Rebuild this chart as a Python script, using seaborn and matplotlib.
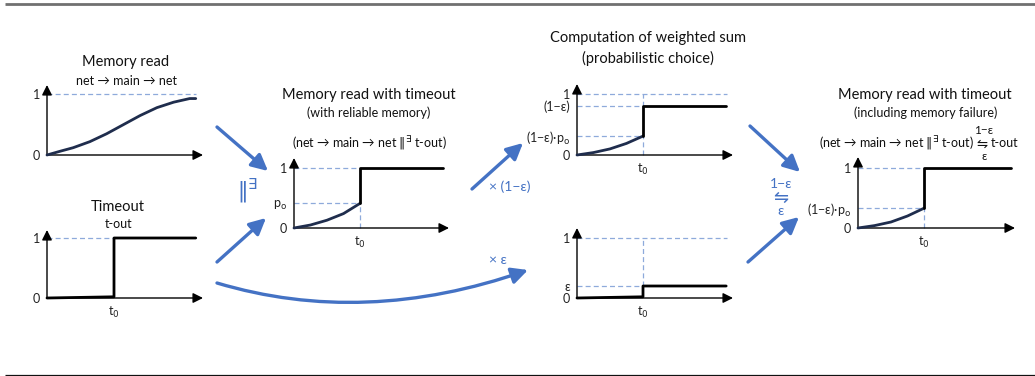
import matplotlib
matplotlib.use('Agg')
import matplotlib.pyplot as plt
import seaborn as sns
from matplotlib.patches import FancyArrowPatch
from matplotlib.path import Path

sns.set_theme(style='white')
plt.rcParams['font.family'] = ['Lato', 'DejaVu Sans']
plt.rcParams['mathtext.fontset'] = 'dejavusans'

# ---------------- data (time in units of t0, probability) ----------------
read_t = [0, 0.19, 0.39, 0.64, 0.89, 1.14, 1.39, 1.64, 1.89, 2.13, 2.22]
read_p = [0, 0.06, 0.12, 0.22, 0.35, 0.50, 0.65, 0.78, 0.87, 0.93, 0.93]

timeout_t = [0, 1, 1, 2.22]
timeout_p = [0, 0.02, 1, 1]

early_t = [0, 0.25, 0.5, 0.75, 1.0]
reliable_early = [0, 0.05, 0.13, 0.24, 0.41]
reliable_step_t = [1, 1, 2.26]
reliable_step_p = [0.41, 1, 1]

weighted_early = [0, 0.04, 0.10, 0.19, 0.31]
weighted_step_t = [1, 1, 2.26]
weighted_step_p = [0.31, 0.80, 0.80]

eps_t = [0, 1, 1, 2.26]
eps_p = [0, 0.02, 0.20, 0.20]

failure_early = [0, 0.04, 0.10, 0.20, 0.33]
failure_step_t = [1, 1, 2.32]
failure_step_p = [0.33, 1, 1]

PO = r'p$_{\mathrm{o}}$'
p1_ticks, p1_labels = [0, 1], ['0', '1']
p2_ticks, p2_labels = [0, 1], ['0', '1']
p3_ticks, p3_labels = [0, 0.41, 1], ['0', PO, '1']
p4_ticks, p4_labels = [0, 0.31, 0.80, 1], ['0', '(1−ε)·' + PO, '(1−ε)', '1']
p5_ticks, p5_labels = [0, 0.20, 1], ['0', 'ε', '1']
p6_ticks, p6_labels = [0, 0.33, 1], ['0', '(1−ε)·' + PO, '1']
t0_label = r't$_0$'

# ---------------- figure ----------------
W, H = 1035, 376
fig = plt.figure(figsize=(W / 100, H / 100), dpi=100)

blue = '#4472C4'
dash_c = '#8EAADB'
navy = '#1F2D4D'

ov = fig.add_axes([0, 0, 1, 1])
ov.set_xlim(0, W)
ov.set_ylim(H, 0)
ov.axis('off')
ov.patch.set_alpha(0)

# top / bottom rules
ov.plot([5, W], [4, 4], color='#707070', lw=2.0, solid_capstyle='butt')
ov.plot([5, W], [374.5, 374.5], color='#111111', lw=0.9, solid_capstyle='butt')


def make_panel(axis_x, y0, tip, top, ux, uy):
    ax = fig.add_axes([axis_x / W, 1 - y0 / H, (tip - axis_x) / W, (y0 - top) / H])
    ax.set_xlim(0, (tip - axis_x) / ux)
    ax.set_ylim(0, (y0 - top) / uy)
    ax.patch.set_alpha(0)
    for s in ax.spines.values():
        s.set_visible(False)
    ax.tick_params(length=0, labelsize=9, pad=5, colors='#222222')
    ax.annotate('', xy=(1, 0), xytext=(0, 0), xycoords='axes fraction',
                arrowprops=dict(arrowstyle='-|>,head_length=0.5,head_width=0.25',
                                color='black', lw=1.0, mutation_scale=12,
                                shrinkA=0, shrinkB=0))
    ax.annotate('', xy=(0, 1), xytext=(0, 0), xycoords='axes fraction',
                arrowprops=dict(arrowstyle='-|>,head_length=0.5,head_width=0.25',
                                color='black', lw=1.0, mutation_scale=12,
                                shrinkA=0, shrinkB=0))
    return ax


def dashed(ax, xs, ys):
    ax.plot(xs, ys, color=dash_c, lw=0.9, dashes=(4, 2.5), clip_on=False, zorder=1)


def line(ax, xs, ys, color, lw=2.0):
    sns.lineplot(x=xs, y=ys, ax=ax, estimator=None, sort=False, color=color,
                 lw=lw, clip_on=False, zorder=3)
    ax.set_xlabel('')
    ax.set_ylabel('')


def ticks(ax, yt, yl, t0=True):
    ax.set_yticks(yt)
    ax.set_yticklabels(yl)
    if t0:
        ax.set_xticks([1])
        ax.set_xticklabels([t0_label])
    else:
        ax.set_xticks([])


# Panel 1: memory read
a1 = make_panel(47, 155, 203, 85, 67, 60.7)
dashed(a1, [0, 2.22], [1, 1])
line(a1, read_t, read_p, navy, 2.0)
ticks(a1, p1_ticks, p1_labels, t0=False)

# Panel 2: timeout
a2 = make_panel(47, 298, 203, 230, 67, 60)
dashed(a2, [0, 1], [1, 1])
line(a2, timeout_t, timeout_p, 'black', 2.0)
ticks(a2, p2_ticks, p2_labels)

# Panel 3: memory read with timeout (reliable)
a3 = make_panel(294, 228, 449, 158, 66, 60)
dashed(a3, [0, 1], [1, 1])
dashed(a3, [0, 1], [0.41, 0.41])
dashed(a3, [1, 1], [0, 0.41])
line(a3, early_t, reliable_early, navy, 2.0)
line(a3, reliable_step_t, reliable_step_p, 'black', 2.0)
ticks(a3, p3_ticks, p3_labels)

# Panel 4: weighted (1-eps)
a4 = make_panel(577, 155, 733, 84, 66, 61)
dashed(a4, [0, 2.27], [1, 1])
dashed(a4, [0, 1], [0.80, 0.80])
dashed(a4, [0, 1], [0.31, 0.31])
dashed(a4, [1, 1], [0, 1])
line(a4, early_t, weighted_early, navy, 2.0)
line(a4, weighted_step_t, weighted_step_p, 'black', 2.0)
ticks(a4, p4_ticks, p4_labels)

# Panel 5: weighted eps
a5 = make_panel(577, 298, 733, 228, 66, 60)
dashed(a5, [0, 2.27], [1, 1])
dashed(a5, [0, 1], [0.20, 0.20])
dashed(a5, [1, 1], [0.20, 1])
line(a5, eps_t, eps_p, 'black', 2.0)
ticks(a5, p5_ticks, p5_labels)

# Panel 6: memory read with timeout incl. failure
a6 = make_panel(858, 228, 1015, 157, 66, 60)
dashed(a6, [0, 1], [1, 1])
dashed(a6, [0, 1], [0.33, 0.33])
dashed(a6, [1, 1], [0, 0.33])
line(a6, early_t, failure_early, navy, 2.0)
line(a6, failure_step_t, failure_step_p, 'black', 2.0)
ticks(a6, p6_ticks, p6_labels)

# ---------------- texts ----------------
tk = dict(ha='center', va='center', color='#111111')
ov.text(126, 62, 'Memory read', fontsize=10.5, **tk)
ov.text(126, 81, 'net → main → net', fontsize=9, **tk)
ov.text(118, 207, 'Timeout', fontsize=10.5, **tk)
ov.text(119, 224, 't-out', fontsize=9, **tk)
ov.text(369, 95, 'Memory read with timeout', fontsize=10.5, **tk)
ov.text(369, 113, '(with reliable memory)', fontsize=9, **tk)
ov.text(369, 143, r'(net → main → net $\Vert^{\exists}$ t-out)', fontsize=9, **tk)
ov.text(648, 38, 'Computation of weighted sum', fontsize=10.5, **tk)
ov.text(648, 58, '(probabilistic choice)', fontsize=10.5, **tk)
ov.text(925, 95, 'Memory read with timeout', fontsize=10.5, **tk)
ov.text(926, 113, '(including memory failure)', fontsize=9, **tk)
ov.text(974, 143, r'(net → main → net $\Vert^{\exists}$ t-out)', fontsize=9,
        ha='right', va='center', color='#111111')
ov.text(982, 144, '⇋', fontsize=9.5, **tk)
ov.text(991, 143, 't-out', fontsize=9, ha='left', va='center', color='#111111')
ov.text(984, 130, '1−ε', fontsize=8.5, **tk)
ov.text(984, 156, 'ε', fontsize=8.5, **tk)

# ---------------- blue arrows ----------------
def barrow(p0, p1):
    ov.add_patch(FancyArrowPatch(p0, p1, arrowstyle='-|>,head_length=0.7,head_width=0.35',
                                 mutation_scale=14, color=blue, lw=2.4,
                                 shrinkA=0, shrinkB=0))

barrow((217, 127), (268, 171))
barrow((217, 262), (266, 218))
barrow((472, 189), (523, 143))
barrow((750, 126), (800, 172))
barrow((748, 262), (799, 217))

curve = Path([(217, 283), (364, 327), (528, 270)],
             [Path.MOVETO, Path.CURVE3, Path.CURVE3])
ov.add_patch(FancyArrowPatch(path=curve, arrowstyle='-|>,head_length=0.7,head_width=0.35',
                             mutation_scale=14, color=blue, lw=2.4,
                             shrinkA=0, shrinkB=0))

ov.text(247, 191, r'$\Vert^{\exists}$', fontsize=15, color=blue, ha='center', va='center')
ov.text(510, 187, '× (1−ε)', fontsize=10, color=blue, ha='center', va='center')
ov.text(498, 260, '× ε', fontsize=10, color=blue, ha='center', va='center')
ov.text(781, 184, '1−ε', fontsize=10, color=blue, ha='center', va='center')
ov.text(781, 198, '⇋', fontsize=13, color=blue, ha='center', va='center')
ov.text(781, 211, 'ε', fontsize=10, color=blue, ha='center', va='center')

fig.savefig('out.png', dpi=100)
